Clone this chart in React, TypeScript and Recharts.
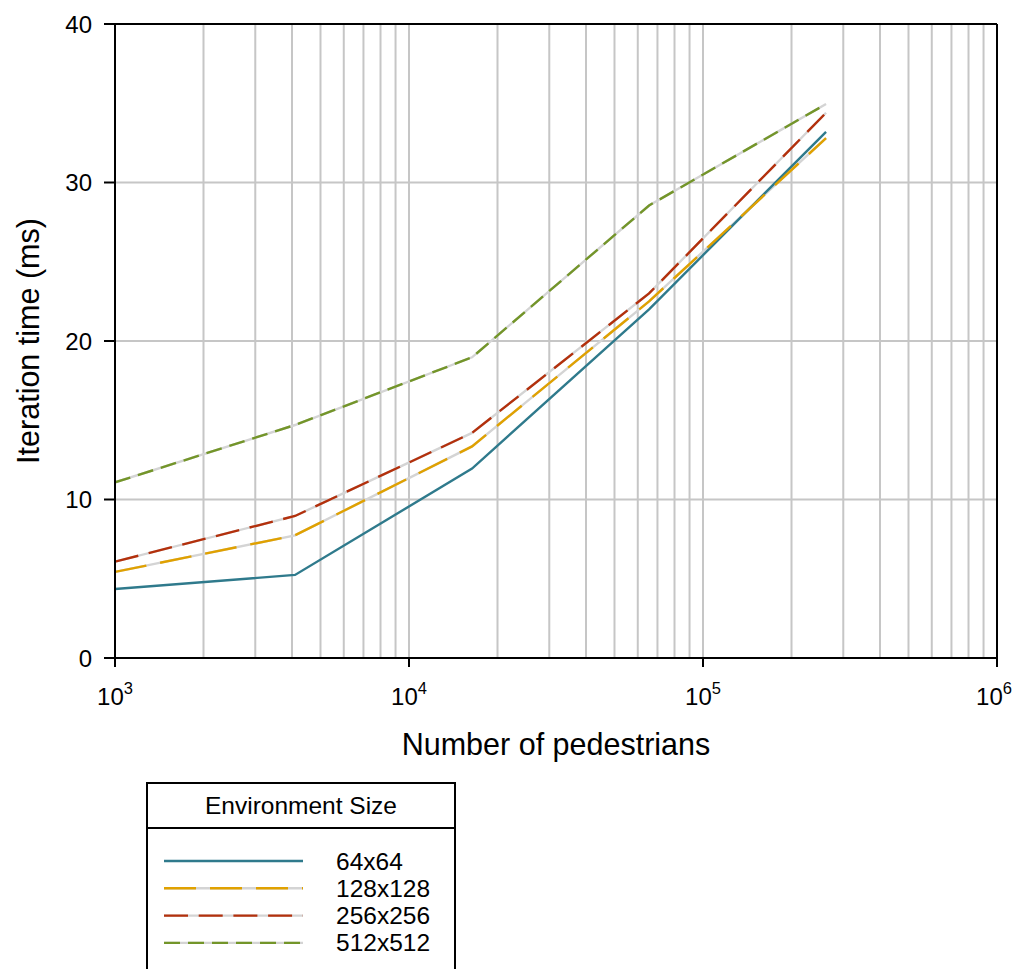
import React from 'react';
import { LineChart, Line, XAxis, YAxis, CartesianGrid, ReferenceLine } from 'recharts';

const pedestrians = [1000, 4096, 16384, 65536, 262144];
const env64 = [4.35, 5.24, 11.95, 22.0, 33.2];
const env128 = [5.43, 7.74, 13.35, 22.5, 32.8];
const env256 = [6.08, 8.96, 14.2, 23.0, 34.4];
const env512 = [11.08, 14.7, 18.97, 28.55, 34.95];

const seriesNames = ['64x64', '128x128', '256x256', '512x512'];
const seriesKeys = ['s64', 's128', 's256', 's512'];
const seriesColors = ['#2f7a8c', '#e0a100', '#b3300c', '#739529'];
const seriesDash = ['', '32 14', '24 10.7', '16 8'];

const xMajorTicks = [1000, 10000, 100000, 1000000];
const xExponents = ['3', '4', '5', '6'];
const xMinorGrid = [
  2000, 3000, 4000, 5000, 6000, 7000, 8000, 9000,
  20000, 30000, 40000, 50000, 60000, 70000, 80000, 90000,
  200000, 300000, 400000, 500000, 600000, 700000, 800000, 900000,
];
const yTicks = [0, 10, 20, 30, 40];

const data = pedestrians.map((p, i) => ({
  x: p,
  s64: env64[i],
  s128: env128[i],
  s256: env256[i],
  s512: env512[i],
}));

const FONT = '"Liberation Sans", Arial, Helvetica, sans-serif';
const GRID = '#c6c6c6';
const UNDER = '#d4d4d4';

const XTick = (props: any) => {
  const { x, y, payload } = props;
  const idx = xMajorTicks.indexOf(payload.value);
  return (
    <text x={x} y={y + 36} textAnchor="middle" fontFamily={FONT} fontSize={24} fill="#000">
      <tspan>10</tspan>
      <tspan dy={-11} fontSize={16.5}>{xExponents[idx]}</tspan>
    </text>
  );
};

const YTick = (props: any) => {
  const { x, y, payload } = props;
  return (
    <text x={x - 10} y={y} textAnchor="end" dominantBaseline="central" fontFamily={FONT} fontSize={24} fill="#000">
      {payload.value}
    </text>
  );
};

export default function App() {
  return (
    <div style={{ position: 'absolute', left: 0, top: 0, width: 1022, height: 969, overflow: 'hidden', background: '#fff' }}>
      <LineChart
        width={1022}
        height={969}
        data={data}
        margin={{ top: 24, right: 25, left: 0, bottom: 211 }}
      >
        <CartesianGrid vertical={false} stroke={GRID} strokeWidth={2} horizontalValues={yTicks} />
        {xMinorGrid.map((v) => (
          <ReferenceLine key={'m' + v} x={v} stroke={GRID} strokeWidth={2} ifOverflow="hidden" />
        ))}
        {xMajorTicks.slice(1, 3).map((v) => (
          <ReferenceLine key={'M' + v} x={v} stroke={GRID} strokeWidth={2} />
        ))}
        <XAxis
          dataKey="x"
          type="number"
          scale="log"
          domain={[1000, 1000000]}
          ticks={xMajorTicks}
          allowDataOverflow
          height={100}
          stroke="#000"
          strokeWidth={2}
          tickSize={9}
          tickLine={{ stroke: '#000', strokeWidth: 2 }}
          tick={<XTick />}
          label={(p: any) => {
            const vb = p.viewBox || {};
            return (
              <text x={(vb.x ?? 115) + (vb.width ?? 882) / 2} y={755} textAnchor="middle" fontFamily={FONT} fontSize={30.5} fill="#000">
                Number of pedestrians
              </text>
            );
          }}
        />
        <YAxis
          type="number"
          domain={[0, 40]}
          ticks={yTicks}
          width={115}
          stroke="#000"
          strokeWidth={2}
          tickSize={11}
          tickLine={{ stroke: '#000', strokeWidth: 2 }}
          tick={<YTick />}
          label={(p: any) => {
            const vb = p.viewBox || {};
            const cy = (vb.y ?? 24) + (vb.height ?? 634) / 2;
            return (
              <text
                x={28}
                y={cy}
                transform={`rotate(-90, 28, ${cy})`}
                textAnchor="middle"
                dominantBaseline="central"
                fontFamily={FONT}
                fontSize={30.5}
                fill="#000"
              >
                Iteration time (ms)
              </text>
            );
          }}
        />
        <ReferenceLine y={40} stroke="#000" strokeWidth={2} />
        <ReferenceLine x={1000000} stroke="#000" strokeWidth={2} />
        {seriesKeys.map((k, i) =>
          seriesDash[i] ? (
            <Line
              key={'u' + k}
              type="linear"
              dataKey={k}
              stroke={UNDER}
              strokeWidth={2.4}
              dot={false}
              activeDot={false}
              legendType="none"
              isAnimationActive={false}
            />
          ) : null
        )}
        {seriesKeys.map((k, i) => (
          <Line
            key={k}
            type="linear"
            dataKey={k}
            name={seriesNames[i]}
            stroke={seriesColors[i]}
            strokeWidth={2.4}
            strokeDasharray={seriesDash[i] || undefined}
            dot={false}
            activeDot={false}
            isAnimationActive={false}
          />
        ))}
      </LineChart>
      <div
        style={{
          position: 'absolute',
          left: 146,
          top: 782,
          width: 306,
          height: 200,
          borderLeft: '2px solid #000',
          borderTop: '2px solid #000',
          borderRight: '2px solid #000',
          fontFamily: FONT,
        }}
      >
        <div
          style={{
            height: 43,
            borderBottom: '2px solid #000',
            display: 'flex',
            alignItems: 'center',
            justifyContent: 'center',
            fontSize: 24.5,
          }}
        >
          Environment Size
        </div>
        <svg width={306} height={150} style={{ display: 'block' }}>
          {seriesNames.map((n, i) => {
            const cy = 32 + i * 27.3;
            return (
              <g key={n}>
                {seriesDash[i] ? (
                  <line x1={16} x2={155} y1={cy} y2={cy} stroke={UNDER} strokeWidth={2.4} />
                ) : null}
                <line
                  x1={16}
                  x2={155}
                  y1={cy}
                  y2={cy}
                  stroke={seriesColors[i]}
                  strokeWidth={2.4}
                  strokeDasharray={seriesDash[i] || undefined}
                />
                <text x={188} y={cy} dominantBaseline="central" fontFamily={FONT} fontSize={24.5} fill="#000">
                  {n}
                </text>
              </g>
            );
          })}
        </svg>
      </div>
    </div>
  );
}
